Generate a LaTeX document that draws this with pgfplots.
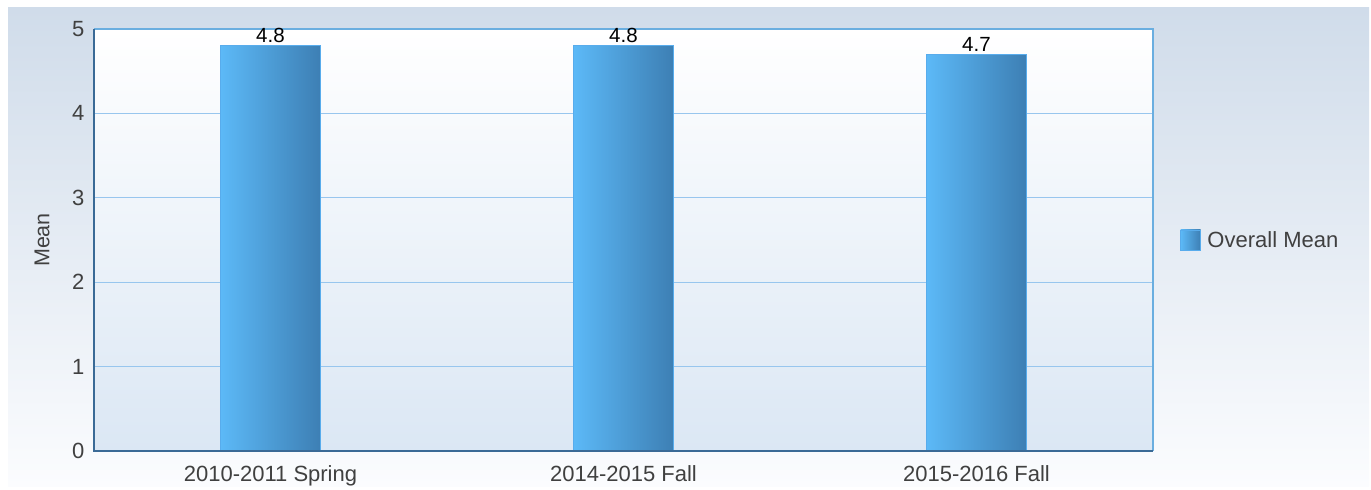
\documentclass[border=0pt]{standalone}
\usepackage{pgfplots}
\pgfplotsset{compat=1.18}
\usepackage{fontspec}
\setmainfont{Liberation Sans}
\definecolor{bgtop}{HTML}{D0DCEA}
\definecolor{bgbot}{HTML}{FBFCFE}
\definecolor{plotbot}{HTML}{DBE7F4}
\definecolor{barL}{HTML}{5CB9F7}
\definecolor{barR}{HTML}{3D7FB4}
\definecolor{barEdge}{HTML}{58ACEC}
\definecolor{gridc}{HTML}{98C6EE}
\definecolor{axdark}{HTML}{3A6A96}
\definecolor{axlight}{HTML}{6AAEE0}
\definecolor{txt}{HTML}{404040}
\begin{document}
\begin{tikzpicture}[x=1bp,y=1bp]
\fill[white] (0,0) rectangle (1371,486);
\shade[top color=bgtop, bottom color=bgbot] (8,0) rectangle (1369,478);
\begin{axis}[
  at={(94bp,35bp)}, anchor=south west,
  scale only axis, width=1059bp, height=422bp,
  xmin=-0.5, xmax=2.5, ymin=0, ymax=5,
  xtick={0,1,2},
  xticklabels={2010-2011 Spring,2014-2015 Fall,2015-2016 Fall},
  ytick={0,1,2,3,4,5},
  major tick length=0,
  clip=false,
  axis line style={draw=none},
  axis background/.style={shade, top color=white, bottom color=plotbot},
  ymajorgrids, grid style={gridc, line width=1bp},
  /pgf/number format/assume math mode=true,
  ticklabel style={font=\fontsize{22bp}{24bp}\selectfont, text=txt},
  xticklabel style={anchor=north, yshift=-11bp},
  yticklabel style={anchor=east, xshift=-6bp},
  ylabel={Mean},
  ylabel style={at={(rel axis cs:-0.049,0.5)}, anchor=center, font=\fontsize{21.5bp}{23bp}\selectfont, text=txt},
  legend style={at={(rel axis cs:1.0255,0.5)}, anchor=west, draw=none, fill=none, font=\fontsize{22bp}{24bp}\selectfont, text=txt, inner sep=0pt, legend cell align=left,
    nodes={inner xsep=6.5bp}},
  legend image code/.code={\shade[left color=barL, right color=barR, draw=barEdge, line width=0.8bp] (0bp,-10bp) rectangle (20bp,10bp);},
  nodes near coords={\pgfmathprintnumber[fixed,fixed zerofill,precision=1]{\pgfplotspointmeta}},
  every node near coord/.append style={font=\fontsize{20.5bp}{22bp}\selectfont, text=black, anchor=south, yshift=-1bp},
]
\addplot[ybar, bar shift=0pt, bar width=100bp, left color=barL, right color=barR, draw=barEdge, line width=1bp]
  coordinates {(0,4.8)};
\addlegendentry{Overall Mean}
\addplot[ybar, bar shift=0pt, bar width=100bp, left color=barL, right color=barR, draw=barEdge, line width=1bp, forget plot]
  coordinates {(1,4.8)};
\addplot[ybar, bar shift=0pt, bar width=100bp, left color=barL, right color=barR, draw=barEdge, line width=1bp, forget plot]
  coordinates {(2,4.7)};
\draw[axlight, line width=2bp] (rel axis cs:0,1) -- (rel axis cs:1,1) -- (rel axis cs:1,0);
\draw[axdark, line width=2bp] (rel axis cs:0,1) -- (rel axis cs:0,0) -- (rel axis cs:1,0);
\end{axis}
\end{tikzpicture}
\end{document}
